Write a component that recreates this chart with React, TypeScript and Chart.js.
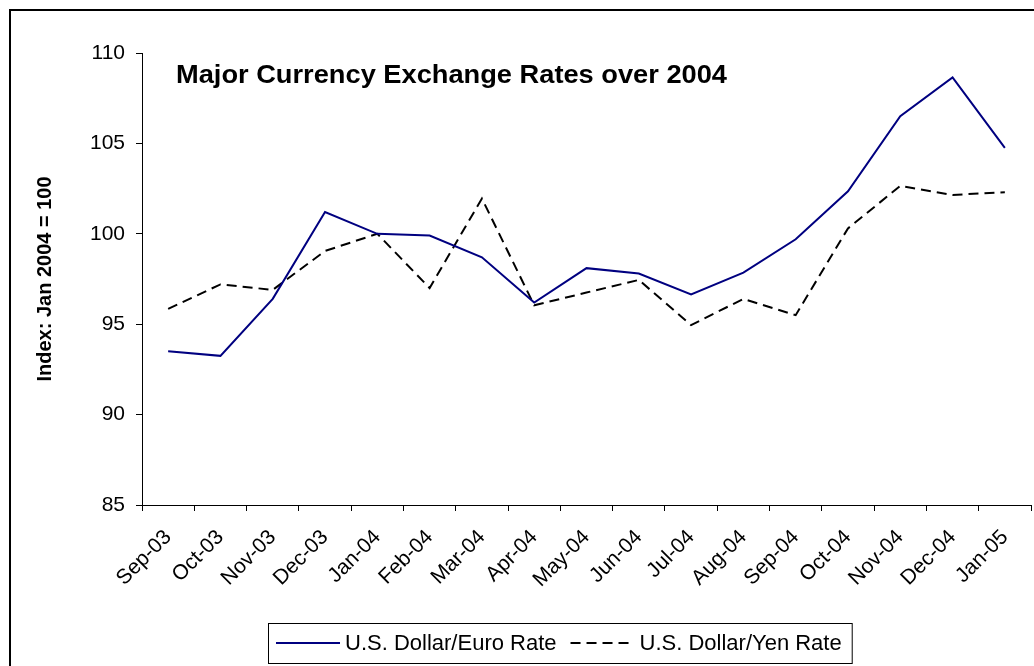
import React, { useEffect, useRef } from 'react';
import { Chart, registerables } from 'chart.js';

Chart.register(...registerables);

const categories = [
  'Sep-03', 'Oct-03', 'Nov-03', 'Dec-03', 'Jan-04', 'Feb-04', 'Mar-04', 'Apr-04',
  'May-04', 'Jun-04', 'Jul-04', 'Aug-04', 'Sep-04', 'Oct-04', 'Nov-04', 'Dec-04', 'Jan-05',
];
const euroRate = [93.5, 93.25, 96.4, 101.2, 100.0, 99.9, 98.7, 96.2, 98.1, 97.8, 96.65, 97.85, 99.7, 102.35, 106.5, 108.65, 104.75];
const yenRate = [95.85, 97.2, 96.9, 99.05, 100.0, 97.0, 101.95, 96.05, 96.75, 97.45, 94.95, 96.4, 95.5, 100.3, 102.65, 102.15, 102.3];
const yMin = 85;
const yMax = 110;
const yStep = 5;
const chartTitle = 'Major Currency Exchange Rates over 2004';
const yAxisTitle = 'Index: Jan 2004 = 100';
const seriesNames = ['U.S. Dollar/Euro Rate', 'U.S. Dollar/Yen Rate'];

const FONT = '"Liberation Sans", Arial, Helvetica, sans-serif';
const EURO_COLOR = '#000080';
const YEN_COLOR = '#000000';
const YEN_DASH = [10, 6];

const decorPlugin = {
  id: 'decor',
  beforeDraw(chart: any) {
    const ctx = chart.ctx;
    ctx.save();
    ctx.fillStyle = '#ffffff';
    ctx.fillRect(0, 0, chart.width, chart.height);
    ctx.strokeStyle = '#000000';
    ctx.lineWidth = 2;
    ctx.strokeRect(10, 10, chart.width + 40, chart.height + 40);
    ctx.restore();
  },
  afterDraw(chart: any) {
    const ctx = chart.ctx;
    ctx.save();
    // Title (inside plot area)
    ctx.fillStyle = '#000000';
    ctx.font = `bold 25px ${FONT}`;
    ctx.textBaseline = 'alphabetic';
    ctx.textAlign = 'left';
    const tw = ctx.measureText(chartTitle).width;
    const sx = 551 / tw;
    ctx.translate(176, 83);
    ctx.scale(sx, 1);
    ctx.fillText(chartTitle, 0, 0);
    ctx.restore();

    // Legend
    ctx.save();
    ctx.font = `22px ${FONT}`;
    ctx.textBaseline = 'middle';
    ctx.textAlign = 'left';
    const cy = 643;
    const boxLeft = 268;
    let x = 276;
    const sample = 64;
    // series 1
    ctx.strokeStyle = EURO_COLOR;
    ctx.lineWidth = 2;
    ctx.setLineDash([]);
    ctx.beginPath();
    ctx.moveTo(x, cy);
    ctx.lineTo(x + sample, cy);
    ctx.stroke();
    x += sample + 5;
    ctx.fillStyle = '#000000';
    ctx.fillText(seriesNames[0], x, cy + 1);
    x += ctx.measureText(seriesNames[0]).width + 14;
    // series 2
    ctx.strokeStyle = YEN_COLOR;
    ctx.setLineDash(YEN_DASH);
    ctx.beginPath();
    ctx.moveTo(x, cy);
    ctx.lineTo(x + sample, cy);
    ctx.stroke();
    ctx.setLineDash([]);
    x += sample + 5;
    ctx.fillText(seriesNames[1], x, cy + 1);
    x += ctx.measureText(seriesNames[1]).width + 10;
    ctx.strokeStyle = '#000000';
    ctx.lineWidth = 1;
    ctx.strokeRect(boxLeft + 0.5, 623.5, x - boxLeft, 40);
    ctx.restore();
  },
};

export default function App() {
  const canvasRef = useRef<HTMLCanvasElement | null>(null);

  useEffect(() => {
    if (!canvasRef.current) return;
    const chart = new Chart(canvasRef.current, {
      type: 'line',
      data: {
        labels: categories,
        datasets: [
          {
            label: seriesNames[0],
            data: euroRate,
            borderColor: EURO_COLOR,
            backgroundColor: EURO_COLOR,
            borderWidth: 2,
            pointRadius: 0,
            tension: 0,
            fill: false,
          },
          {
            label: seriesNames[1],
            data: yenRate,
            borderColor: YEN_COLOR,
            backgroundColor: YEN_COLOR,
            borderWidth: 2,
            borderDash: YEN_DASH,
            pointRadius: 0,
            tension: 0,
            fill: false,
          },
        ],
      },
      options: {
        animation: false,
        responsive: false,
        devicePixelRatio: 1,
        layout: { padding: { top: 53, right: 3, bottom: 0, left: 0 } },
        plugins: {
          legend: { display: false },
          title: { display: false },
          tooltip: { enabled: false },
        },
        scales: {
          x: {
            type: 'category',
            offset: true,
            grid: {
              display: true,
              drawOnChartArea: false,
              offset: true,
              tickLength: 6,
              color: '#000000',
              tickColor: '#000000',
            },
            border: { display: true, color: '#000000', width: 1 },
            ticks: {
              color: '#000000',
              font: { family: FONT, size: 21 },
              minRotation: 45,
              maxRotation: 45,
              autoSkip: false,
              padding: 14,
            },
            afterFit(scale: any) {
              scale.height = 161;
              scale.paddingRight = 0;
            },
          },
          y: {
            min: yMin,
            max: yMax,
            ticks: {
              stepSize: yStep,
              color: '#000000',
              font: { family: FONT, size: 21 },
              padding: 11,
            },
            grid: {
              display: true,
              drawOnChartArea: false,
              tickLength: 6,
              color: '#000000',
              tickColor: '#000000',
            },
            border: { display: true, color: '#000000', width: 1 },
            title: {
              display: true,
              text: yAxisTitle,
              color: '#000000',
              font: { family: FONT, size: 20, weight: 'bold' },
              padding: { top: 33, bottom: 0 },
            },
            afterFit(scale: any) {
              scale.width = 142;
            },
          },
        },
      },
      plugins: [decorPlugin],
    });
    return () => chart.destroy();
  }, []);

  return (
    <div style={{ position: 'absolute', left: 0, top: 0, width: 1034, height: 666 }}>
      <canvas ref={canvasRef} width={1034} height={666} />
    </div>
  );
}
